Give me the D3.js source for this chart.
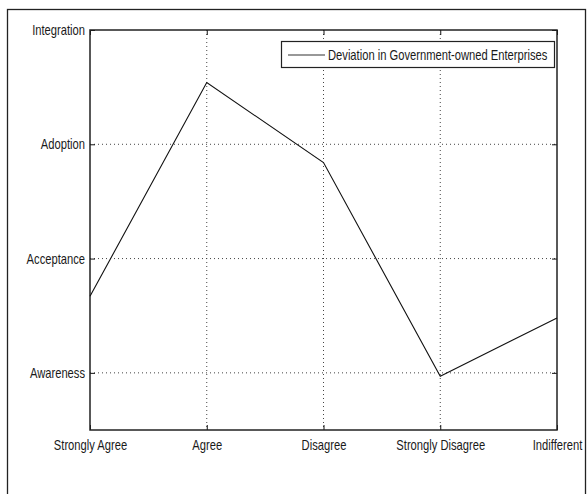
<!DOCTYPE html>
<html><head><meta charset="utf-8">
<script src="https://cdn.jsdelivr.net/npm/d3@7"></script>
<style>
html,body{margin:0;padding:0;background:#fff;}
text{font-family:"Liberation Sans",Arial,sans-serif;font-size:14px;fill:#1a1a1a;}
</style></head>
<body><svg id="c" width="588" height="494"></svg>
<script>
const categories = ["Strongly Agree","Agree","Disagree","Strongly Disagree","Indifferent"];
const levelLabels = ["Awareness","Acceptance","Adoption","Integration"];
const levelValues = [1,2,3,4];
const seriesName = "Deviation in Government-owned Enterprises";
const values = [1.67, 3.54, 2.84, 0.97, 1.48];

const svg = d3.select("#c");
const L=90, R=557, T=30, B=430;
const SX = 0.8;

// outer frame
svg.append("rect").attr("x",7.5).attr("y",9.5).attr("width",578).attr("height",500)
  .attr("fill","none").attr("stroke","#222").attr("stroke-width",1.3);

const x = d3.scalePoint().domain(categories).range([L,R]);
const y = d3.scaleLinear().domain([0.5,4]).range([B,T]);

const g = svg.append("g");
// grid
g.selectAll(".gx").data(categories.slice(1,-1)).join("line")
  .attr("x1",d=>x(d)).attr("x2",d=>x(d)).attr("y1",T).attr("y2",B)
  .attr("stroke","#444").attr("stroke-width",1).attr("stroke-dasharray","1,3");
g.selectAll(".gy").data(levelValues.slice(0,-1)).join("line")
  .attr("y1",d=>y(d)).attr("y2",d=>y(d)).attr("x1",L).attr("x2",R)
  .attr("stroke","#444").attr("stroke-width",1).attr("stroke-dasharray","1,3");

// axes
const ax = (sel)=>sel.call(s=>s.select(".domain").remove());
g.append("g").attr("transform",`translate(0,${B})`)
  .call(d3.axisBottom(x).tickSizeInner(-5).tickSizeOuter(0).tickPadding(10)).call(ax);
g.append("g").attr("transform",`translate(0,${T})`)
  .call(d3.axisTop(x).tickSizeInner(-5).tickSizeOuter(0).tickFormat("")).call(ax);
g.append("g").attr("transform",`translate(${L},0)`)
  .call(d3.axisLeft(y).tickValues(levelValues).tickFormat((d,i)=>levelLabels[i]).tickSizeInner(-5).tickSizeOuter(0).tickPadding(5)).call(ax);
g.append("g").attr("transform",`translate(${R},0)`)
  .call(d3.axisRight(y).tickValues(levelValues).tickFormat("").tickSizeInner(-5).tickSizeOuter(0)).call(ax);
g.selectAll(".tick line").attr("stroke","#111");
g.selectAll(".tick text").attr("font-family",null).attr("font-size",null)
  .attr("transform",function(){const xx=+d3.select(this).attr("x")||0;return `translate(${xx},0) scale(${SX},1) translate(${-xx},0)`;});

// plot box
svg.append("rect").attr("x",L).attr("y",T).attr("width",R-L).attr("height",B-T)
  .attr("fill","none").attr("stroke","#222").attr("stroke-width",1.5);

// series line
const line = d3.line().x((d,i)=>x(categories[i])).y(d=>y(d));
svg.append("path").datum(values).attr("d",line).attr("fill","none")
  .attr("stroke","#111").attr("stroke-width",1.1);

// legend
const lg = svg.append("g");
lg.append("rect").attr("x",281.5).attr("y",41.5).attr("width",273).attr("height",26)
  .attr("fill","#fff").attr("stroke","#222").attr("stroke-width",1.2);
lg.append("line").attr("x1",288).attr("x2",325).attr("y1",55).attr("y2",55)
  .attr("stroke","#333").attr("stroke-width",1.2);
lg.append("text").attr("transform",`translate(328,60) scale(${SX},1)`).text(seriesName);
</script></body></html>
